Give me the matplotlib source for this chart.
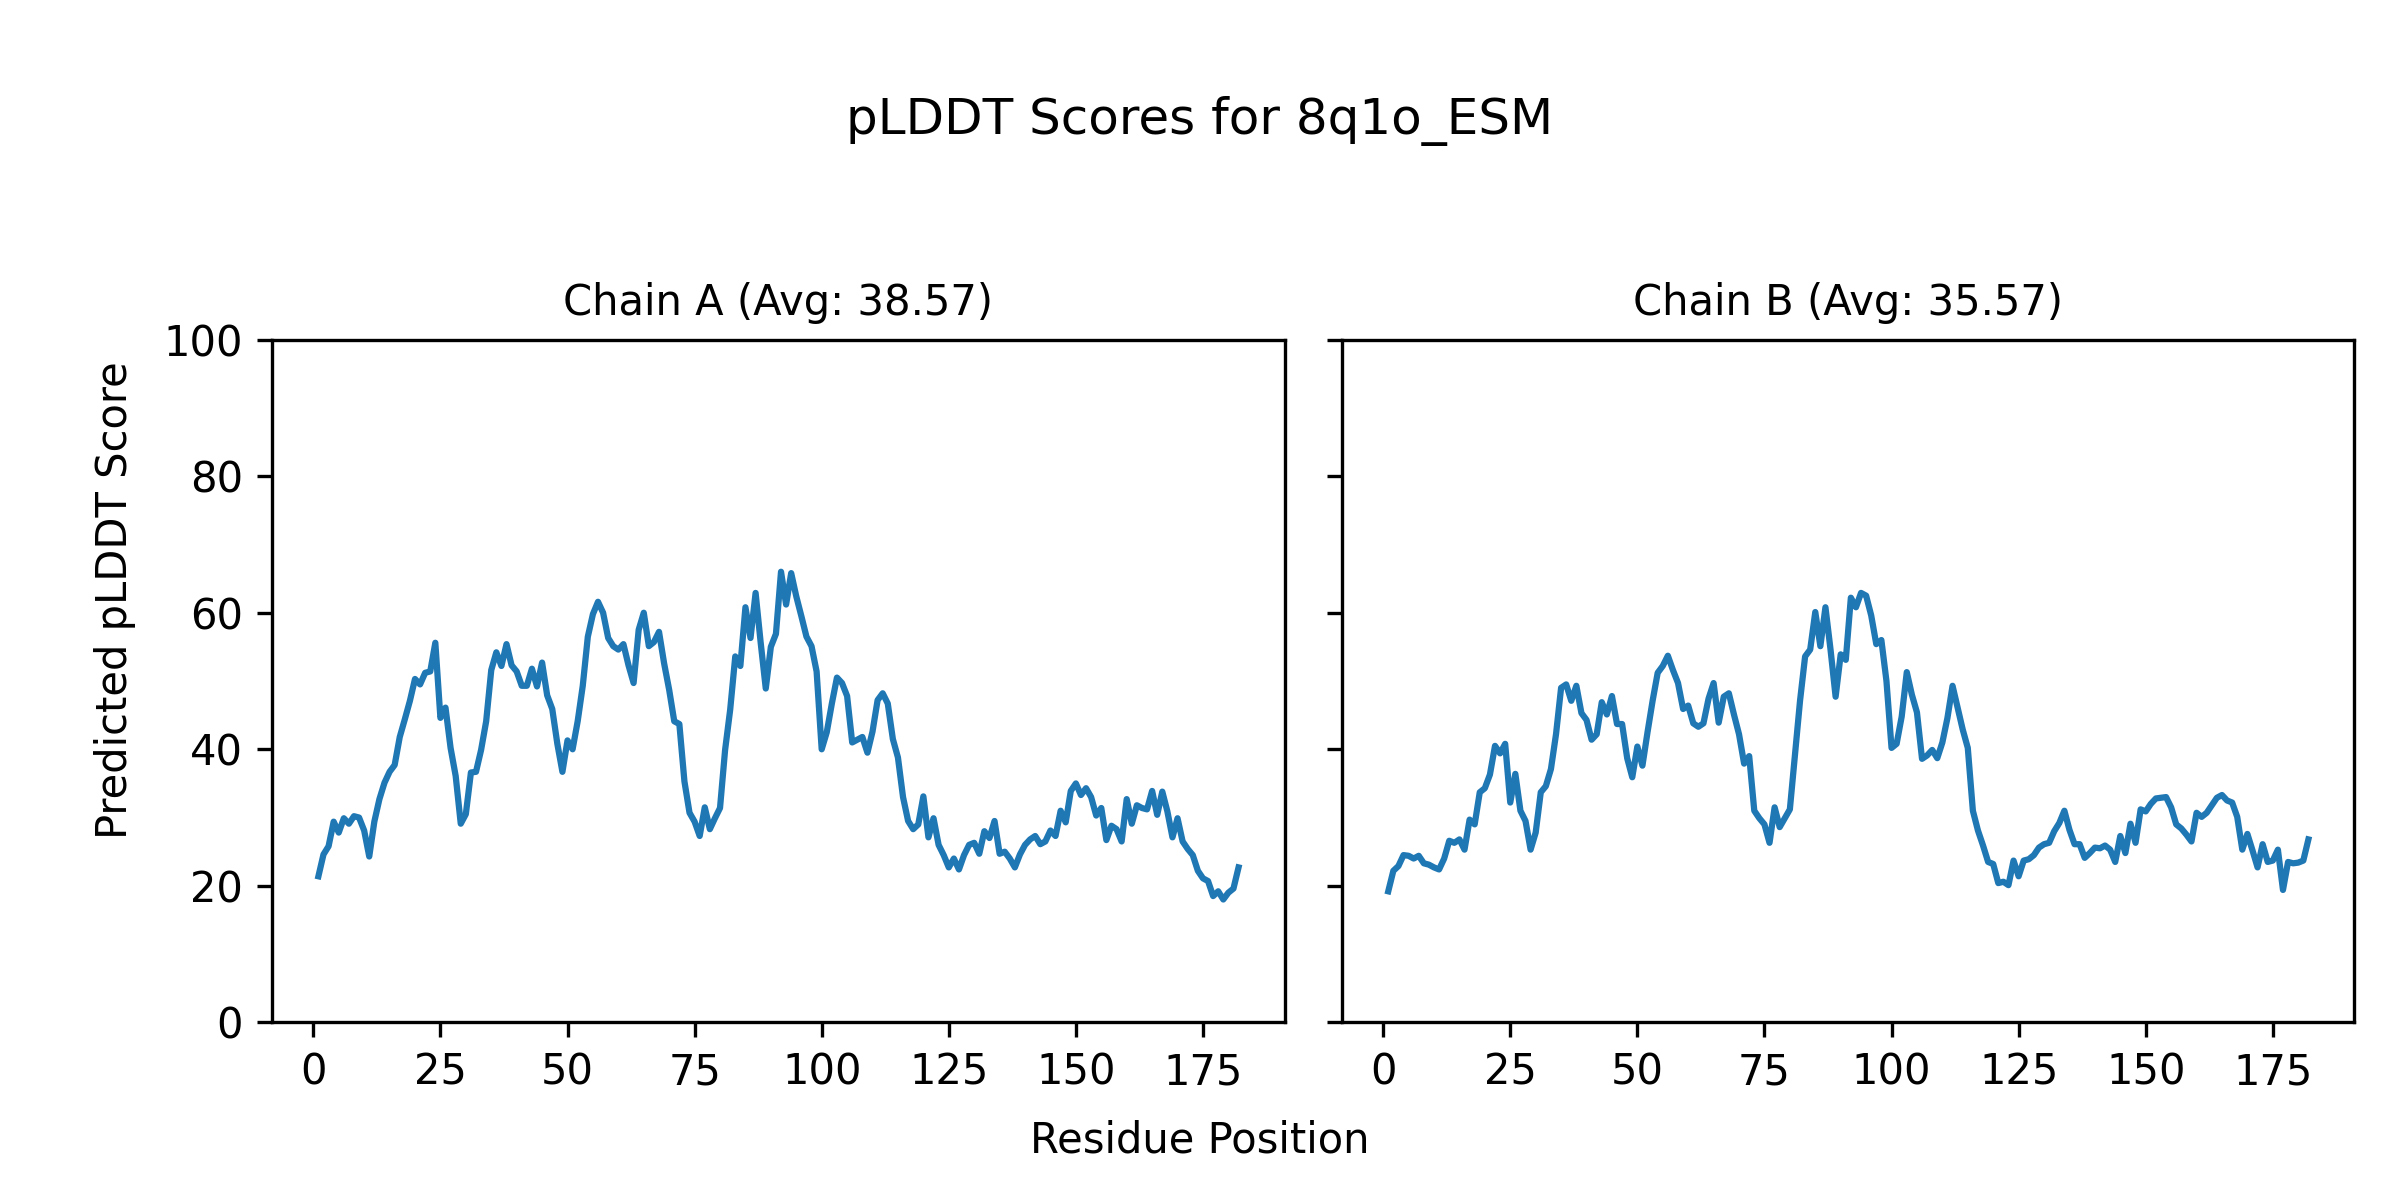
import numpy as np
import matplotlib
matplotlib.use("Agg")
import matplotlib.pyplot as plt

# Per-residue pLDDT values
chain_a_scores = [
    21.4, 24.6, 25.8, 29.4, 27.8, 29.9, 29.1, 30.2, 30.0, 28.1,
    24.3, 29.4, 32.7, 35.1, 36.7, 37.7, 41.8, 44.4, 47.1, 50.3,
    49.5, 51.2, 51.4, 55.6, 44.6, 46.1, 40.2, 36.1, 29.1, 30.5,
    36.6, 36.7, 39.9, 44.1, 51.6, 54.2, 52.2, 55.4, 52.3, 51.4,
    49.3, 49.3, 51.8, 49.2, 52.7, 47.9, 45.9, 40.8, 36.7, 41.3,
    40.0, 44.1, 49.3, 56.5, 59.8, 61.6, 60.0, 56.3, 55.1, 54.6,
    55.4, 52.3, 49.7, 57.5, 60.0, 55.1, 55.7, 57.2, 52.6, 48.7,
    44.1, 43.7, 35.3, 30.7, 29.4, 27.3, 31.5, 28.3, 29.9, 31.4,
    39.9, 45.8, 53.6, 52.2, 60.8, 56.3, 62.9, 55.6, 48.9, 55.0,
    56.9, 66.0, 61.2, 65.8, 62.4, 59.5, 56.5, 55.1, 51.4, 40.0,
    42.5, 46.7, 50.5, 49.7, 47.8, 41.0, 41.4, 41.8, 39.5, 42.6,
    47.2, 48.2, 46.7, 41.5, 38.8, 33.0, 29.5, 28.3, 29.0, 33.1,
    27.1, 29.9, 26.0, 24.5, 22.7, 24.0, 22.4, 24.5, 26.0, 26.3,
    24.7, 28.0, 27.0, 29.5, 24.7, 25.0, 24.0, 22.7, 24.6, 26.0,
    26.8, 27.3, 26.1, 26.5, 28.1, 27.3, 31.0, 29.3, 33.9, 35.0,
    33.3, 34.3, 33.0, 30.3, 31.4, 26.7, 28.8, 28.3, 26.5, 32.7,
    29.1, 31.8, 31.4, 31.2, 33.9, 30.4, 33.8, 30.9, 27.1, 29.9,
    26.5, 25.4, 24.5, 22.2, 21.1, 20.7, 18.5, 19.2, 18.0, 19.0,
    19.6, 22.7,
]

chain_b_scores = [
    19.2, 22.2, 22.9, 24.5, 24.4, 24.0, 24.4, 23.3, 23.1, 22.7,
    22.4, 24.0, 26.6, 26.3, 26.8, 25.3, 29.7, 29.0, 33.7, 34.3,
    36.3, 40.5, 39.4, 40.8, 32.2, 36.4, 31.0, 29.5, 25.3, 27.8,
    33.7, 34.6, 37.1, 42.2, 49.0, 49.5, 47.1, 49.3, 45.3, 44.3,
    41.4, 42.2, 46.9, 45.1, 47.8, 43.7, 43.7, 38.7, 35.9, 40.4,
    37.6, 42.5, 47.1, 51.2, 52.2, 53.7, 51.6, 49.7, 45.9, 46.4,
    43.8, 43.3, 43.8, 47.4, 49.7, 43.9, 47.7, 48.2, 45.1, 42.2,
    37.9, 39.0, 31.0, 29.9, 29.0, 26.3, 31.5, 28.6, 29.9, 31.2,
    39.2, 47.1, 53.6, 54.6, 60.1, 55.1, 60.8, 54.6, 47.7, 53.9,
    53.1, 62.2, 60.8, 62.9, 62.5, 59.6, 55.4, 56.0, 50.0, 40.2,
    40.8, 44.8, 51.3, 48.0, 45.4, 38.6, 39.1, 39.9, 38.7, 41.0,
    44.6, 49.3, 46.1, 42.9, 40.2, 31.0, 28.1, 25.9, 23.5, 23.2,
    20.4, 20.6, 20.1, 23.7, 21.4, 23.7, 23.9, 24.5, 25.6, 26.1,
    26.3, 28.0, 29.2, 31.0, 28.2, 26.1, 26.1, 24.1, 24.8, 25.6,
    25.5, 25.9, 25.3, 23.5, 27.3, 24.8, 29.1, 26.3, 31.2, 30.9,
    32.0, 32.8, 32.9, 33.0, 31.5, 29.0, 28.4, 27.5, 26.5, 30.7,
    30.1, 30.7, 31.8, 32.9, 33.3, 32.5, 32.2, 30.1, 25.3, 27.6,
    25.2, 22.7, 26.1, 23.5, 23.7, 25.3, 19.4, 23.5, 23.3, 23.4,
    23.7, 26.8,
]

chain_names = ["A", "B"]
chain_avgs = [38.57, 35.57]  # as printed in the subplot titles
x_ticks = [0, 25, 50, 75, 100, 125, 150, 175]
y_ticks = [0, 20, 40, 60, 80, 100]
model_name = "8q1o_ESM"


def plot_plddt():
    fig, axes = plt.subplots(1, 2, figsize=(8, 4), sharey=True)
    fig.subplots_adjust(left=0.1135, right=0.981, bottom=0.148, top=0.717,
                        wspace=0.057)

    for ax, name, avg, scores in zip(axes, chain_names, chain_avgs,
                                     [chain_a_scores, chain_b_scores]):
        residues = np.arange(1, len(scores) + 1)
        ax.plot(residues, scores, color="#1f77b4", linewidth=1.5)
        ax.set_title(f"Chain {name} (Avg: {avg:.2f})", fontsize=10)
        ax.set_xticks(x_ticks)
        ax.set_yticks(y_ticks)
        ax.set_ylim(0, 100)

    fig.suptitle(f"pLDDT Scores for {model_name}", fontsize=12, y=0.92)
    fig.supxlabel("Residue Position", fontsize=10, y=0.032)
    fig.supylabel("Predicted pLDDT Score", fontsize=10, x=0.039)

    plt.savefig("out.png", dpi=300)


if __name__ == "__main__":
    plot_plddt()
